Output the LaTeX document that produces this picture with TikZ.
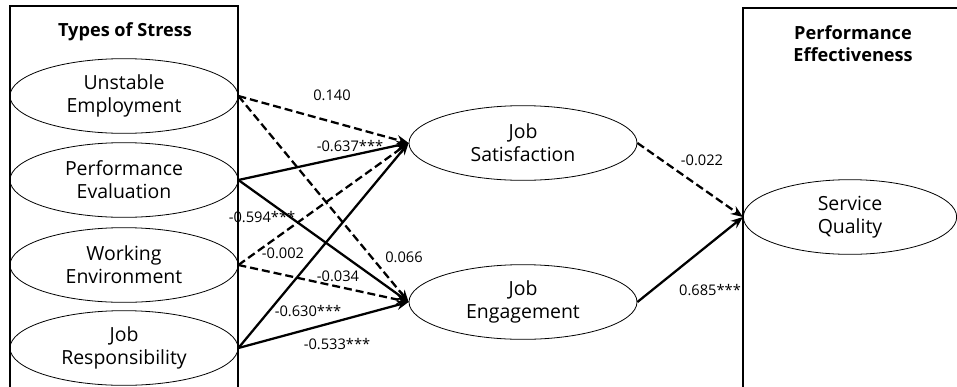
\documentclass[tikz,border=0pt]{standalone}
\usepackage{fontspec}
\setmainfont{Open Sans}
\usetikzlibrary{shapes.geometric,arrows.meta}

\tikzset{
  latent/.style={draw, ellipse, line width=0.6pt, minimum width=171pt, minimum height=56pt,
    inner sep=0pt, align=center, font=\fontsize{14.6}{17.2}\selectfont},
  effect/.style={line width=1.7pt, -{Stealth[length=9pt,width=7pt]}},
  nsig/.style={effect, dash pattern=on 6pt off 3pt},
  coef/.style={font=\fontsize{11}{13}\selectfont, inner sep=1pt},
  group/.style={font=\fontsize{13.6}{16.5}\selectfont\bfseries, align=center}
}

\begin{document}
\begin{tikzpicture}[x=0.75pt, y=-0.75pt]
  \useasboundingbox (0,0) rectangle (957,386);

  % Group boxes
  \draw[line width=0.8pt] (10,392) |- (238,6) -- (238,392);
  \draw[line width=0.8pt] (743,392) |- (962,8);
  \node[group] (stress) at (125,32) {Types of Stress};
  \node[group] (effect) at (853,44) {Performance\\Effectiveness};

  % Stress factors
  \node[latent] (ue) at (124,96) {Unstable\\Employment};
  \node[latent] (pe) at (124,180) {Performance\\Evaluation};
  \node[latent] (we) at (124,265) {Working\\Environment};
  \node[latent] (jr) at (124,348) {Job\\Responsibility};

  % Mediators and outcome
  \node[latent] (js) at (523,143) {Job\\Satisfaction};
  \node[latent] (je) at (523,302) {Job\\Engagement};
  \node[latent, minimum width=160pt] (sq) at (850,217) {Service\\Quality};

  % Paths
  \draw[nsig] (ue.east) -- (js.west);
  \draw[nsig] (ue.east) -- (je.west);
  \draw[effect] (pe.east) -- (js.west);
  \draw[effect] (pe.east) -- (je.west);
  \draw[nsig] (we.east) -- (js.west);
  \draw[nsig] (we.east) -- (je.west);
  \draw[effect] (jr.east) -- (js.west);
  \draw[effect] (jr.east) -- (je.west);
  \draw[nsig] (js.east) -- (sq.west);
  \draw[effect] (je.east) -- (sq.west);

  % Coefficients
  \node[coef] (c1) at (332,95) {0.140};
  \node[coef] (c2) at (350,146) {-0.637***};
  \node[coef] (c3) at (262,217) {-0.594***};
  \node[coef] (c4) at (283,253) {-0.002};
  \node[coef] (c5) at (404,257) {0.066};
  \node[coef] (c6) at (338,276) {-0.034};
  \node[coef] (c7) at (308,311) {-0.630***};
  \node[coef] (c8) at (337,344) {-0.533***};
  \node[coef] (c9) at (702,160) {-0.022};
  \node[coef] (c10) at (710,290) {0.685***};
\end{tikzpicture}
\end{document}
